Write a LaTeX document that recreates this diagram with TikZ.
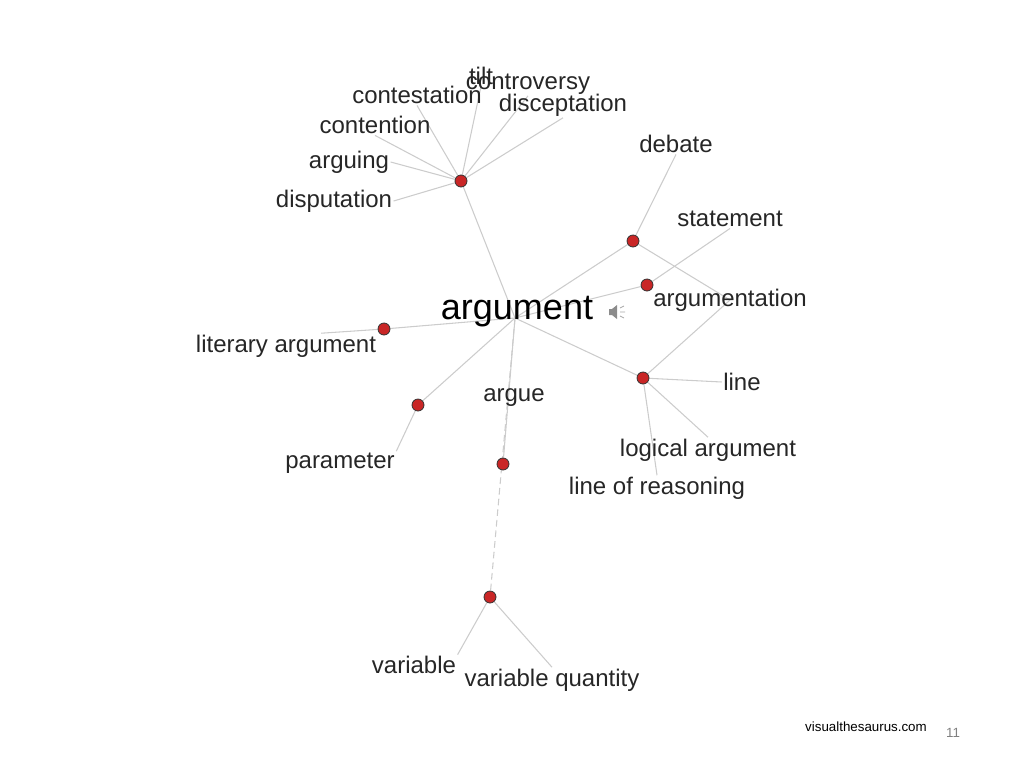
\documentclass[tikz,border=0pt]{standalone}
\usepackage{fontspec}
\setmainfont{Liberation Sans}
\usetikzlibrary{backgrounds}

\begin{document}
\begin{tikzpicture}[
        x=0.75pt, y=-0.75pt,
        dot/.style={circle, draw=black!80, fill=red!75!black!85, line width=0.6pt, minimum size=9pt, inner sep=0pt},
        word/.style={inner sep=1pt, font=\fontsize{18}{20}\selectfont, text=black!85},
        link/.style={draw=black!20, line width=0.8pt},
        dlink/.style={link, dashed, dash pattern=on 5pt off 3pt}
    ]
        \useasboundingbox (0,0) rectangle (1024,768);

        % Hub
        \node[inner sep=0pt, font=\fontsize{27}{29}\selectfont] (hub) at (517,312) {argument};
        \coordinate (hubc) at (515,318);

        % Dots
        \node[dot] (dtop) at (461,181) {};
        \node[dot] (ddeb) at (633,241) {};
        \node[dot] (dstat) at (647,285) {};
        \node[dot] (dlit) at (384,329) {};
        \node[dot] (dpar) at (418,405) {};
        \node[dot] (dline) at (643,378) {};
        \node[dot] (dargue) at (503,464) {};
        \node[dot] (dvar) at (490,597) {};

        % Words
        \node[word] (contestation) at (417,95) {contestation};
        \node[word] (tilt) at (481,76) {tilt};
        \node[word] (controversy) at (528,84) {controversy};
        \node[word] (disceptation) at (563,105) {disceptation};
        \node[word] (contention) at (375,125) {contention};
        \node[word] (arguing) at (349,162) {arguing};
        \node[word] (disputation) at (334,201) {disputation};
        \node[word] (debate) at (676,144) {debate};
        \node[word] (statement) at (730,219) {statement};
        \node[word] (argumentation) at (730,300) {argumentation};
        \node[word] (literary) at (286,346) {literary argument};
        \node[word] (line) at (742,382) {line};
        \node[word] (argue) at (514,398) {argue};
        \node[word] (parameter) at (340,463) {parameter};
        \node[word] (logical) at (708,450) {logical argument};
        \node[word] (reasoning) at (657,488) {line of reasoning};
        \node[word] (variable) at (414,665) {variable};
        \node[word] (quantity) at (552,680) {variable quantity};

        % Speaker icon
        \fill[black!45] (609,309) rectangle (612,315) -- (612,315) -- (617,319) -- (617,305) -- (612,309) -- cycle;
        \draw[black!35, line width=0.6pt] (620,308) -- (624,306) (620,312) -- (625,312) (620,316) -- (624,318);

        % Footer
        \node[font=\fontsize{10}{12}\selectfont] (site) at (866,727) {visualthesaurus.com};
        \node[font=\fontsize{10}{12}\selectfont, text=black!50] (page) at (953,733) {11};

        % Links
        \begin{scope}[on background layer]
        \foreach \n in {dtop, ddeb, dstat, dlit, dpar, dline, dargue}
            \draw[link] (hubc) -- (\n);
        \draw[dlink] (hubc) -- (dvar);
        \foreach \n in {contestation, tilt, controversy, disceptation, contention}
            \draw[link] (dtop) -- (\n.south);
        \draw[link] (dtop) -- (arguing.east);
        \draw[link] (dtop) -- (disputation.east);
        \draw[link] (ddeb) -- (debate.south);
        \draw[link] (ddeb) -- (argumentation.center);
        \draw[link] (dstat) -- (statement.south);
        \draw[link] (dline) -- (argumentation.center);
        \draw[link] (dline) -- (line.west);
        \draw[link] (dline) -- (logical.north);
        \draw[link] (dline) -- (reasoning.north);
        \draw[link] (dlit) -- (literary.20);
        \draw[link] (dpar) -- (parameter.north east);
        \draw[link] (dvar) -- (variable.north east);
        \draw[link] (dvar) -- (quantity.north);
        \end{scope}
    \end{tikzpicture}
\end{document}
